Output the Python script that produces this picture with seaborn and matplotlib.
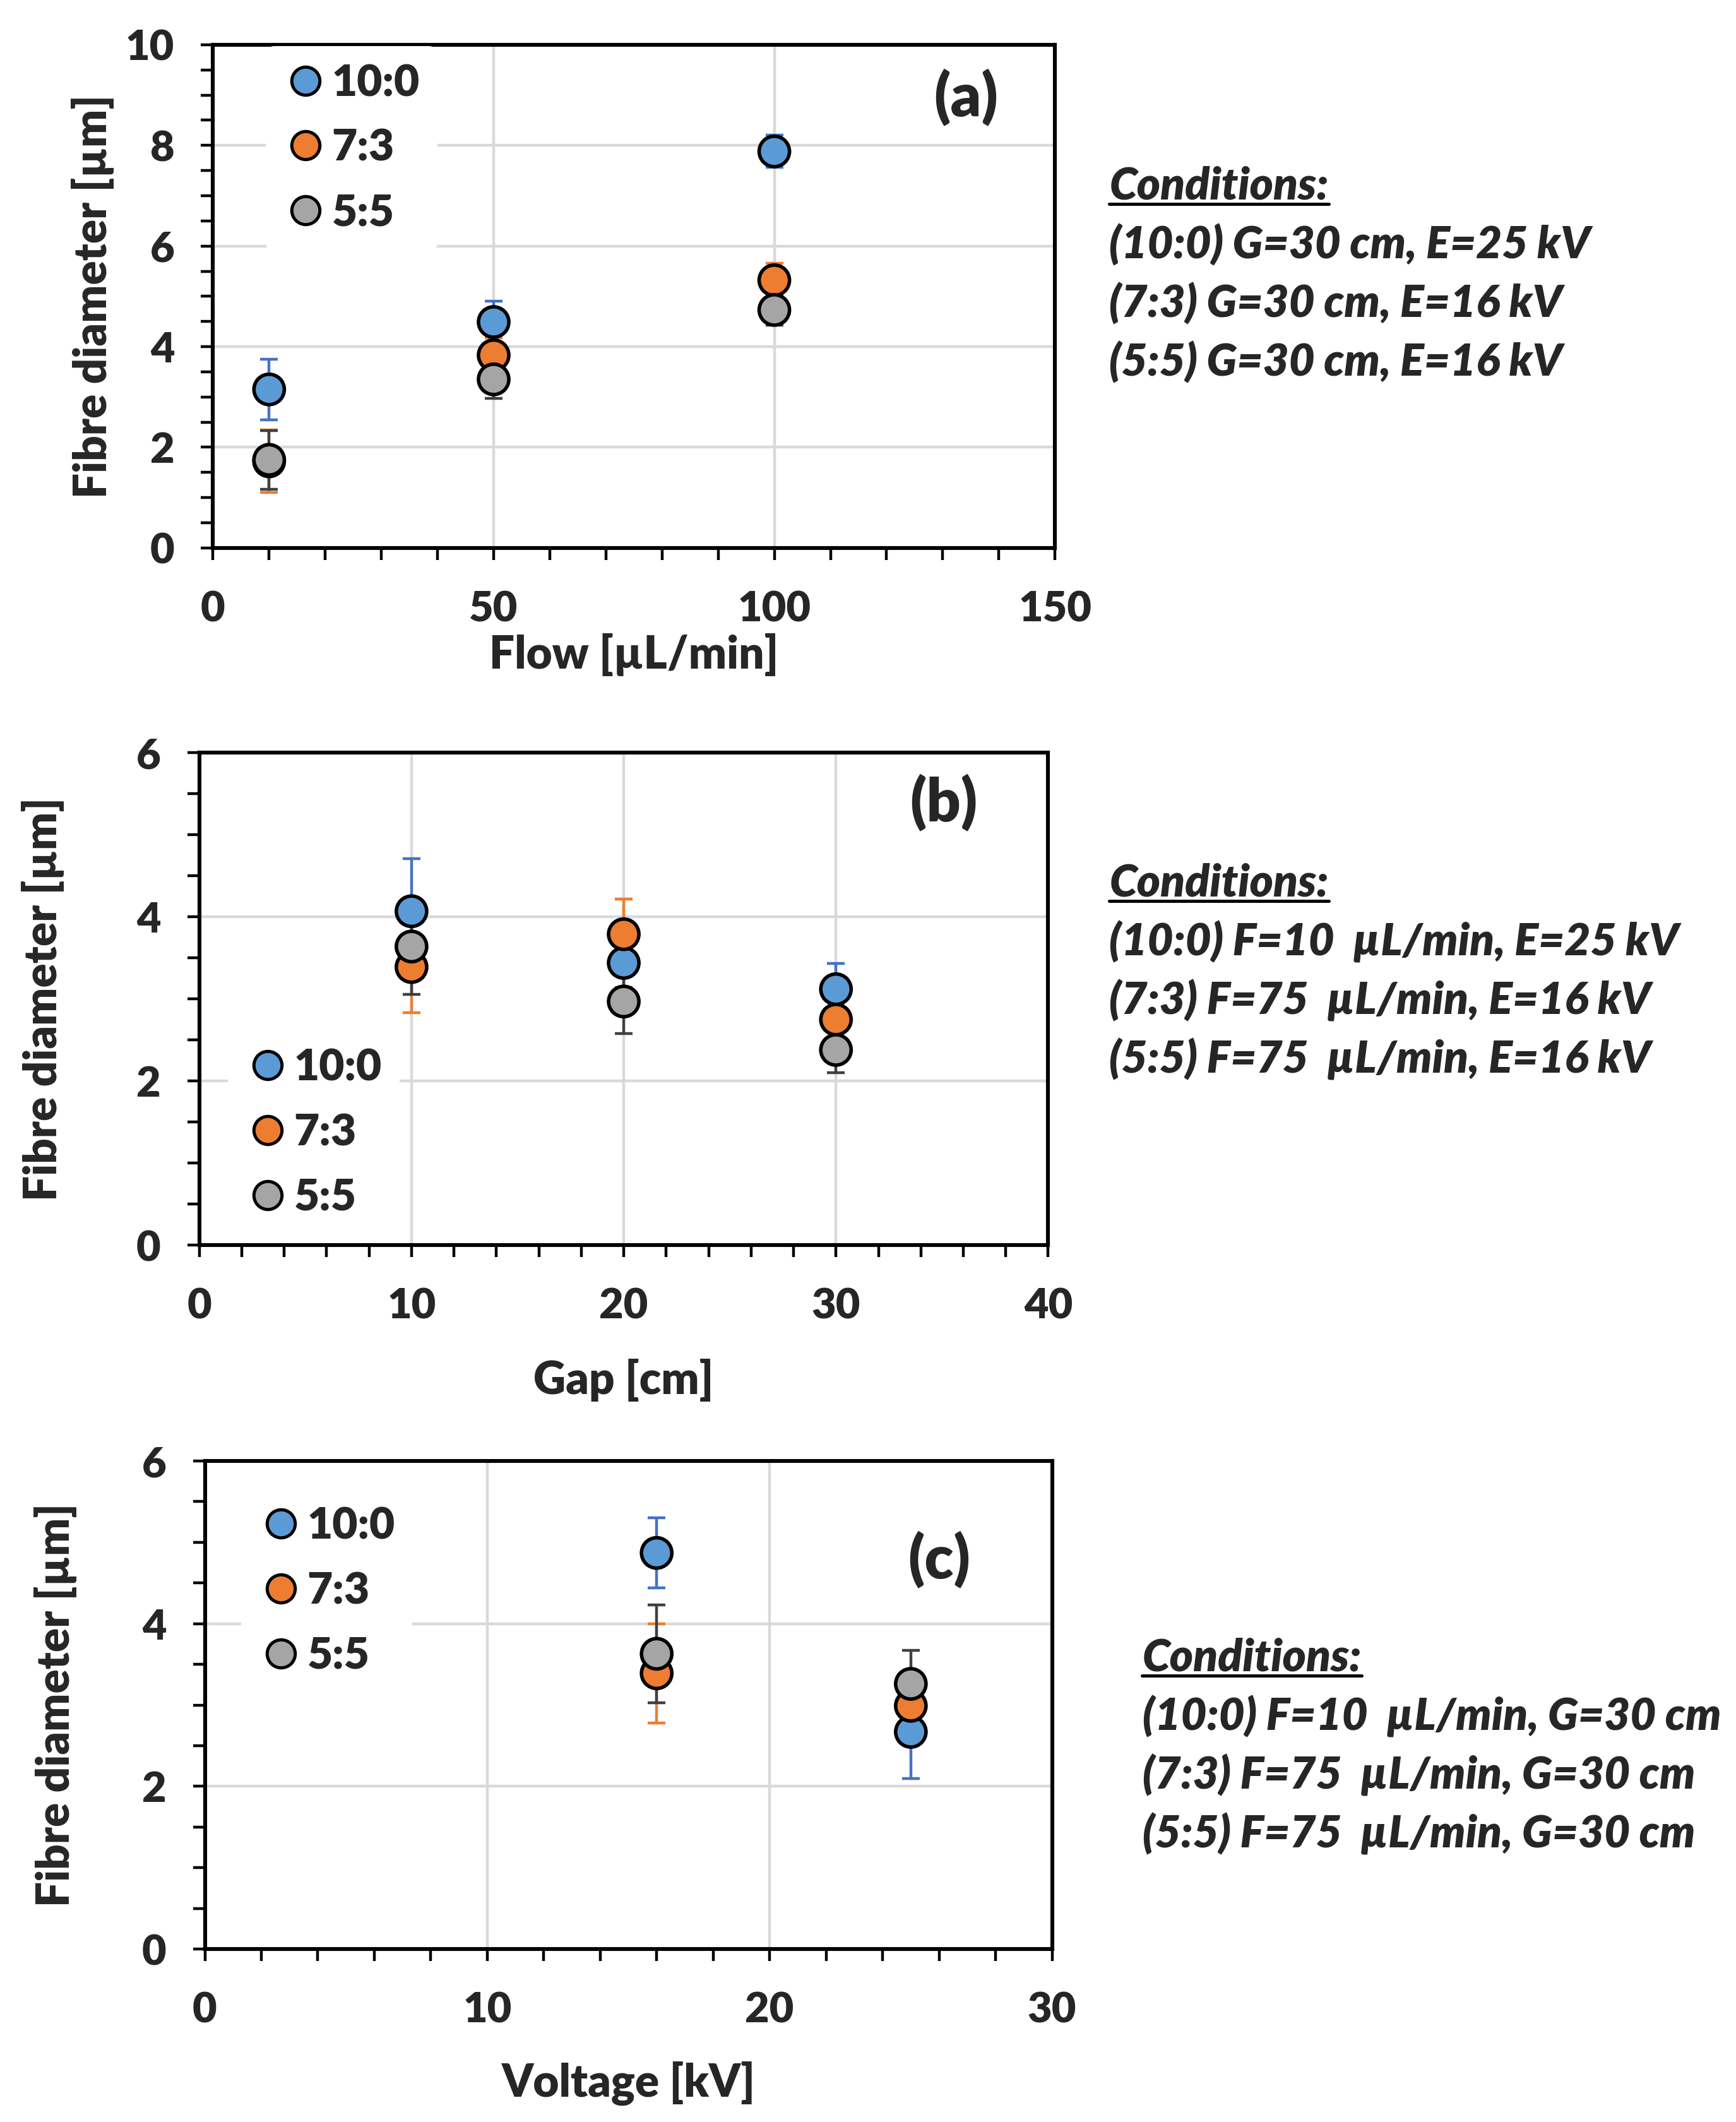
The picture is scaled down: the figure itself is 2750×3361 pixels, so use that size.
import numpy as np
import matplotlib
matplotlib.use('Agg')
import matplotlib.pyplot as plt
from matplotlib.lines import Line2D
from matplotlib.ticker import MultipleLocator
import pandas as pd
import seaborn as sns

# series names and colours (Excel default palette)
ratios = ['10:0', '7:3', '5:5']
marker_colors = ['#5B9BD5', '#ED7D31', '#A5A5A5']
err_colors = ['#4472C4', '#ED7D31', '#404040']

# (a) flow rate
flow_x = [10, 50, 100]
flow_10_0 = [3.15, 4.49, 7.88]
flow_10_0_err = [0.60, 0.42, 0.32]
flow_7_3 = [1.72, 3.83, 5.32]
flow_7_3_err = [0.62, 0.35, 0.34]
flow_5_5 = [1.75, 3.35, 4.73]
flow_5_5_err = [0.58, 0.38, 0.30]

# (b) gap
gap_x = [10, 20, 30]
gap_10_0 = [4.07, 3.44, 3.12]
gap_10_0_err = [0.64, 0.30, 0.31]
gap_7_3 = [3.39, 3.79, 2.75]
gap_7_3_err = [0.56, 0.43, 0.25]
gap_5_5 = [3.64, 2.97, 2.38]
gap_5_5_err = [0.58, 0.39, 0.28]

# (c) voltage
volt_x = [16, 25]
volt_10_0 = [4.87, 2.67]
volt_10_0_err = [0.43, 0.57]
volt_7_3 = [3.39, 2.99]
volt_7_3_err = [0.61, 0.42]
volt_5_5 = [3.63, 3.26]
volt_5_5_err = [0.60, 0.41]

cond_a = ['(10:0) G=30 cm, E=25 kV', '(7:3) G=30 cm, E=16 kV', '(5:5) G=30 cm, E=16 kV']
cond_b = ['(10:0) F=10  µL/min, E=25 kV', '(7:3) F=75  µL/min, E=16 kV', '(5:5) F=75  µL/min, E=16 kV']
cond_c = ['(10:0) F=10  µL/min, G=30 cm', '(7:3) F=75  µL/min, G=30 cm', '(5:5) F=75  µL/min, G=30 cm']

sns.set_style('white')
FONT = ['Lato', 'DejaVu Sans']
WEIGHT = 'heavy'
FS = 24      # tick labels
LFS = 25.5   # axis labels and conditions
plt.rcParams['font.family'] = FONT
plt.rcParams['font.weight'] = WEIGHT
plt.rcParams['axes.labelweight'] = WEIGHT


def make_frame(x, series, errors):
    """Long-form table for seaborn."""
    rows = []
    for name, vals, errs in zip(ratios, series, errors):
        for xi, v, e in zip(x, vals, errs):
            rows.append({'x': xi, 'mean': v, 'err': e, 'ratio': name})
    return pd.DataFrame(rows)


def draw_panel(ax, df, xlim, xmajor, xminor, ylim, xlabel, tag, tag_xy,
               leg_loc, leg_anchor, ylab_x, xlab_y):
    ax.set_axisbelow(True)
    ax.grid(True, which='major', color='#D9D9D9', linewidth=1.6, zorder=0)

    # error bars first, markers on top
    for name, ec in zip(ratios, err_colors):
        d = df[df['ratio'] == name]
        ax.errorbar(d['x'], d['mean'], yerr=d['err'], fmt='none', ecolor=ec,
                    elinewidth=1.6, capsize=5, capthick=1.6, zorder=2)
    sns.scatterplot(data=df, x='x', y='mean', hue='ratio', hue_order=ratios,
                    palette=marker_colors, s=300, edgecolor='black',
                    linewidth=2.0, legend=False, ax=ax, zorder=3)

    ax.set_xlim(*xlim)
    ax.set_ylim(*ylim)
    ax.xaxis.set_major_locator(MultipleLocator(xmajor))
    ax.xaxis.set_minor_locator(MultipleLocator(xminor))
    ax.yaxis.set_major_locator(MultipleLocator(2))
    ax.yaxis.set_minor_locator(MultipleLocator(0.5))
    ax.tick_params(which='both', direction='out', length=7, width=1.6,
                   color='black', bottom=True, left=True)
    ax.tick_params(axis='x', which='major', labelsize=FS, pad=17)
    ax.tick_params(axis='y', which='major', labelsize=FS, pad=15)
    for lab in ax.get_xticklabels() + ax.get_yticklabels():
        lab.set_fontweight(WEIGHT)
    for sp in ax.spines.values():
        sp.set_visible(True)
        sp.set_color('black')
        sp.set_linewidth(2.2)

    ax.set_xlabel(xlabel, fontsize=LFS, fontweight=WEIGHT)
    ax.set_ylabel('Fibre diameter [µm]', fontsize=LFS, fontweight=WEIGHT)
    ax.xaxis.set_label_coords(0.5, xlab_y)
    ax.yaxis.set_label_coords(ylab_x, 0.5)

    ax.text(tag_xy[0], tag_xy[1], tag, transform=ax.transAxes, fontsize=34,
            fontweight=WEIGHT, ha='center', va='center')

    handles = [Line2D([], [], marker='o', linestyle='none', markersize=16,
                      markerfacecolor=c, markeredgecolor='black',
                      markeredgewidth=1.8) for c in marker_colors]
    leg = ax.legend(handles, ratios, loc=leg_loc, bbox_to_anchor=leg_anchor,
                    frameon=True, facecolor='white', edgecolor='none',
                    framealpha=1.0, handletextpad=0.1, borderaxespad=0.0,
                    labelspacing=0.57, borderpad=0.4, handlelength=1.0,
                    prop={'weight': WEIGHT, 'size': 25, 'family': FONT})
    leg.set_zorder(5)


fig = plt.figure(figsize=(13.75, 16.805), dpi=200)
ax_a = fig.add_axes([0.1227, 0.7418, 0.485, 0.2371])
ax_b = fig.add_axes([0.1148, 0.4132, 0.489, 0.2320])
ax_c = fig.add_axes([0.1180, 0.0815, 0.488, 0.2300])

df_a = make_frame(flow_x, [flow_10_0, flow_7_3, flow_5_5],
                  [flow_10_0_err, flow_7_3_err, flow_5_5_err])
df_b = make_frame(gap_x, [gap_10_0, gap_7_3, gap_5_5],
                  [gap_10_0_err, gap_7_3_err, gap_5_5_err])
df_c = make_frame(volt_x, [volt_10_0, volt_7_3, volt_5_5],
                  [volt_10_0_err, volt_7_3_err, volt_5_5_err])

draw_panel(ax_a, df_a, (0, 150), 50, 10, (0, 10), 'Flow [µL/min]', '(a)',
           (0.894, 0.895), 'upper left', (0.063, 0.997), -0.117, -0.17)
draw_panel(ax_b, df_b, (0, 40), 10, 2, (0, 6), 'Gap [cm]', '(b)',
           (0.877, 0.898), 'lower left', (0.034, 0.02), -0.159, -0.23)
draw_panel(ax_c, df_c, (0, 30), 10, 2, (0, 6), 'Voltage [kV]', '(c)',
           (0.867, 0.797), 'upper left', (0.043, 0.942), -0.151, -0.23)

# conditions text to the right of each panel
cond_blocks = [(0.639, 0.9124, cond_a), (0.639, 0.5839, cond_b), (0.658, 0.2189, cond_c)]
line_step = 0.0277
heads = []
for x0, y0, lines in cond_blocks:
    h = fig.text(x0, y0, 'Conditions:', fontsize=LFS, fontweight=WEIGHT,
                 fontstyle='italic', ha='left', va='center', family=FONT)
    heads.append(h)
    for i, line in enumerate(lines):
        fig.text(x0, y0 - line_step * (i + 1), line, fontsize=LFS,
                 fontweight=WEIGHT, fontstyle='italic', ha='left',
                 va='center', family=FONT)

# underline the headers
fig.canvas.draw()
renderer = fig.canvas.get_renderer()
inv = fig.transFigure.inverted()
for h in heads:
    bb = h.get_window_extent(renderer).transformed(inv)
    fig.add_artist(Line2D([bb.x0, bb.x1], [bb.y0 + 0.001, bb.y0 + 0.001],
                          color='black', linewidth=1.8, transform=fig.transFigure))

fig.savefig('out.png', dpi=200, facecolor='white')
